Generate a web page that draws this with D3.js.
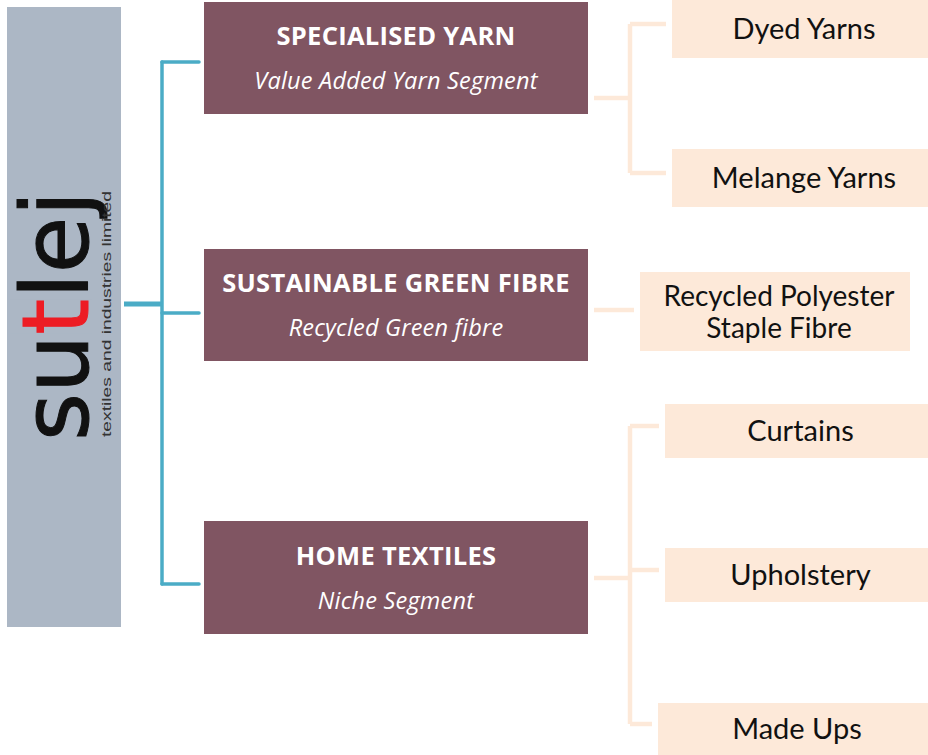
<!DOCTYPE html>
<html>
<head>
<meta charset="utf-8">
<script src="https://cdn.jsdelivr.net/npm/d3@7"></script>
<style>
  html, body { margin: 0; padding: 0; background: #fff; }
</style>
</head>
<body>
<div id="chart"></div>
<script>
// data
const segments = ["SPECIALISED YARN", "SUSTAINABLE GREEN FIBRE", "HOME TEXTILES"];
const subtitles = ["Value Added Yarn Segment", "Recycled Green fibre", "Niche Segment"];
const products = [
  ["Dyed Yarns", "Melange Yarns"],
  ["Recycled Polyester|Staple Fibre"],
  ["Curtains", "Upholstery", "Made Ups"]
];
const brand = "sutlej";
const brandAccent = 2; // index of the red "t"
const brandTag = "textiles and industries limited";

// layout (box geometry)
const segBoxes = [[2, 114], [249, 361], [521, 634]];
const segStubY = [98, 310, 578];
const leafBoxes = [
  [[672, 0, 928, 58], [672, 149, 928, 207]],
  [[640, 272, 910, 351]],
  [[665, 404, 928, 458], [665, 548, 928, 602], [658, 703, 928, 755]]
];
const leafLinkEnd = [[666, 666], [634], [659, 659, 652]];

const width = 928, height = 755;
const maroon = "#805562", peach = "#fde9d9", blue = "#4bacc6";

const svg = d3.select("#chart").append("svg")
    .attr("width", width)
    .attr("height", height);

// logo panel
svg.append("rect")
    .attr("x", 7).attr("y", 7)
    .attr("width", 114).attr("height", 620)
    .attr("fill", "#acb7c5");

const logoTransform = "translate(88,441) rotate(-90)";
const logoFont = { family: "DejaVu Sans", size: 92 };
const logo = svg.append("text")
    .attr("transform", logoTransform)
    .attr("font-family", logoFont.family)
    .attr("font-size", logoFont.size)
    .attr("fill", "#111")
    .attr("stroke", "#111")
    .attr("stroke-width", 1)
    .attr("textLength", 250)
    .attr("lengthAdjust", "spacingAndGlyphs")
    .text(brand);

// red accent letter drawn on top of the same glyph
const s0 = logo.node().getStartPositionOfChar(brandAccent).x;
const s1 = logo.node().getEndPositionOfChar(brandAccent).x;
svg.append("rect")
    .attr("transform", logoTransform)
    .attr("x", s0 + 1).attr("y", -78)
    .attr("width", s1 - s0 - 2).attr("height", 82)
    .attr("fill", "#acb7c5");
svg.append("text")
    .attr("transform", logoTransform)
    .attr("x", s0)
    .attr("font-family", logoFont.family)
    .attr("font-size", logoFont.size)
    .attr("fill", "#ed1c24")
    .attr("stroke", "#ed1c24")
    .attr("stroke-width", 1)
    .attr("textLength", s1 - s0)
    .attr("lengthAdjust", "spacingAndGlyphs")
    .text(brand[brandAccent]);

svg.append("text")
    .attr("transform", "translate(111,437) rotate(-90)")
    .attr("font-family", "Liberation Sans")
    .attr("font-size", 13.5)
    .attr("fill", "#333")
    .attr("textLength", 246)
    .attr("lengthAdjust", "spacingAndGlyphs")
    .text(brandTag);

// blue connectors
const segCY = segBoxes.map(b => (b[0] + b[1]) / 2);
const trunkX = 162;
svg.append("line")
    .attr("x1", 124).attr("x2", trunkX)
    .attr("y1", 304).attr("y2", 304)
    .attr("stroke", blue).attr("stroke-width", 5);
svg.append("line")
    .attr("x1", trunkX).attr("x2", trunkX)
    .attr("y1", 62).attr("y2", 584)
    .attr("stroke", blue).attr("stroke-width", 3.5)
    .attr("stroke-linecap", "round");
svg.selectAll("line.branch")
    .data([62, 313, 584])
    .join("line")
    .attr("class", "branch")
    .attr("x1", trunkX).attr("x2", 199)
    .attr("y1", d => d).attr("y2", d => d)
    .attr("stroke", blue).attr("stroke-width", 3.5)
    .attr("stroke-linecap", "round");

// segment boxes
const seg = svg.selectAll("g.seg")
    .data(segments)
    .join("g")
    .attr("class", "seg");
seg.append("rect")
    .attr("x", 204).attr("y", (d, i) => segBoxes[i][0])
    .attr("width", 384).attr("height", (d, i) => segBoxes[i][1] - segBoxes[i][0])
    .attr("fill", maroon);
seg.append("text")
    .attr("x", 396).attr("y", (d, i) => segCY[i] - 13)
    .attr("text-anchor", "middle")
    .attr("font-family", "Open Sans")
    .attr("font-weight", 700)
    .attr("font-size", 25.5)
    .attr("letter-spacing", 0.3)
    .attr("fill", "#fff")
    .text(d => d);
seg.append("text")
    .attr("x", 396).attr("y", (d, i) => segCY[i] + 31)
    .attr("text-anchor", "middle")
    .attr("font-family", "Open Sans")
    .attr("font-style", "italic")
    .attr("font-size", 23.5)
    .attr("letter-spacing", 0.2)
    .attr("fill", "#fff")
    .text((d, i) => subtitles[i]);

// peach connectors
const twigX = 630;
products.forEach((group, gi) => {
  const g = svg.append("g")
      .attr("fill", "none")
      .attr("stroke", peach)
      .attr("stroke-width", 4.5);
  const ys = group.map((p, pi) => {
    const b = leafBoxes[gi][pi];
    return group.length === 1 ? segStubY[gi] : b[1] + (b[3] - b[1]) / 2 - 5;
  });
  if (group.length === 1) {
    g.append("line")
        .attr("x1", 594).attr("x2", leafLinkEnd[gi][0])
        .attr("y1", segStubY[gi]).attr("y2", segStubY[gi]);
    return;
  }
  g.append("line")
      .attr("x1", 594).attr("x2", twigX)
      .attr("y1", segStubY[gi]).attr("y2", segStubY[gi]);
  g.append("line")
      .attr("x1", twigX).attr("x2", twigX)
      .attr("y1", d3.min(ys)).attr("y2", d3.max(ys));
  g.selectAll("line.twig")
      .data(ys)
      .join("line")
      .attr("class", "twig")
      .attr("x1", twigX).attr("x2", (d, i) => leafLinkEnd[gi][i])
      .attr("y1", d => d).attr("y2", d => d);
});

// product boxes
const leaves = products.flatMap((group, gi) =>
  group.map((name, pi) => ({ name, box: leafBoxes[gi][pi] })));
const leaf = svg.selectAll("g.leaf")
    .data(leaves)
    .join("g")
    .attr("class", "leaf");
leaf.append("rect")
    .attr("x", d => d.box[0]).attr("y", d => d.box[1])
    .attr("width", d => d.box[2] - d.box[0])
    .attr("height", d => d.box[3] - d.box[1])
    .attr("fill", peach);
leaf.each(function(d) {
  const lines = d.name.split("|");
  const cx = (d.box[0] + d.box[2]) / 2 + 4;
  const cy = (d.box[1] + d.box[3]) / 2;
  d3.select(this).selectAll("text")
      .data(lines)
      .join("text")
      .attr("x", cx)
      .attr("y", (l, i) => cy + 10 + (i - (lines.length - 1) / 2) * 32)
      .attr("text-anchor", "middle")
      .attr("font-family", "Lato")
      .attr("font-size", lines.length > 1 ? 28 : 29)
      .attr("fill", "#111")
      .text(l => l);
});
</script>
</body>
</html>
